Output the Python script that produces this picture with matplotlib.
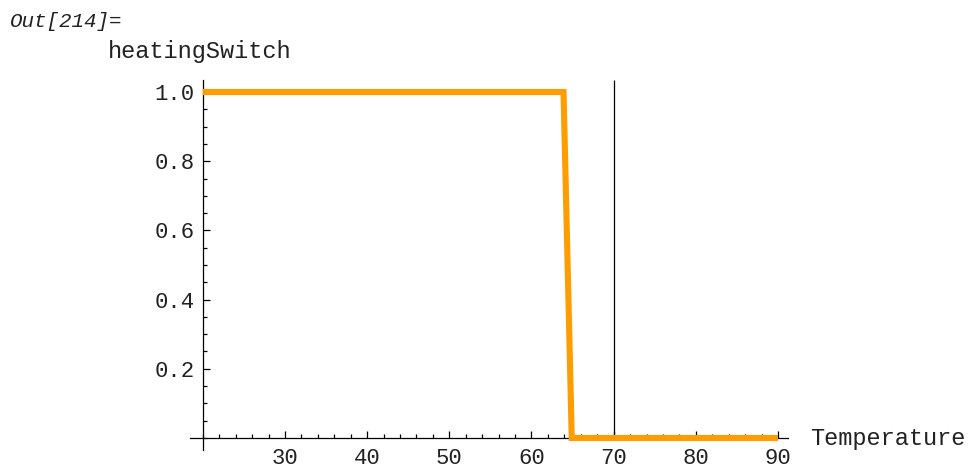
import numpy as np
import matplotlib.pyplot as plt
from matplotlib.ticker import MultipleLocator

# ── data ───────────────────────────────────────
temperature    = [20, 63.9, 64.9, 90]
heating_switch = [1, 1, 0, 0]
threshold      = 70

x_ticks = [30, 40, 50, 60, 70, 80, 90]
y_ticks = [0.2, 0.4, 0.6, 0.8, 1.0]
y_tick_labels = ['0.2', '0.4', '0.6', '0.8', '1.0']

MONO = 'Liberation Mono'
ORANGE = '#ff9c00'

# ── figure ─────────────────────────────────────
fig = plt.figure(figsize=(9.7, 4.68), dpi=100)
W, H = 970, 468
# axes box in pixel coords (left, top, right, bottom)
L, T, R, B = 190, 80, 788, 450
ax = fig.add_axes([L / W, 1 - B / H, (R - L) / W, (B - T) / H])

ax.set_xlim(18.44, 91.22)
ax.set_ylim(-0.0347, 1.0347)

for s in ['top', 'right']:
    ax.spines[s].set_visible(False)
ax.spines['left'].set_position(('data', 20))
ax.spines['bottom'].set_position(('data', 0))
for s in ['left', 'bottom']:
    ax.spines[s].set_linewidth(0.9)
    ax.spines[s].set_color('black')

ax.set_xticks(x_ticks)
ax.set_xticklabels([str(t) for t in x_ticks])
ax.set_yticks(y_ticks)
ax.set_yticklabels(y_tick_labels)
ax.xaxis.set_minor_locator(MultipleLocator(2))
ax.yaxis.set_minor_locator(MultipleLocator(0.05))

ax.tick_params(which='both', direction='in', width=0.9, color='black')
ax.tick_params(which='major', length=5)
ax.tick_params(which='minor', length=3.2)
ax.tick_params(axis='x', pad=7)
ax.tick_params(axis='y', pad=6)
for lab in ax.get_xticklabels() + ax.get_yticklabels():
    lab.set_fontfamily(MONO)
    lab.set_fontsize(16)
    lab.set_color('#222222')

# vertical threshold line
ax.vlines(threshold, 0, ax.get_ylim()[1], color='black', linewidth=0.9, zorder=2)

# step curve
ax.plot(temperature, heating_switch, color=ORANGE, linewidth=4.4,
        solid_joinstyle='miter', solid_capstyle='butt', zorder=3, clip_on=False)

# texts
fig.text(10 / W, 1 - 27 / H, 'Out[214]=', family=MONO, style='italic',
         fontsize=15, color='#222222', va='baseline', ha='left')
fig.text(108 / W, 1 - 58 / H, 'heatingSwitch', family=MONO,
         fontsize=17, color='#222222', va='baseline', ha='left')
fig.text(810 / W, 1 - 438 / H, 'Temperature', family=MONO,
         fontsize=17, color='#222222', va='center', ha='left')

fig.savefig('out.png', dpi=100)
